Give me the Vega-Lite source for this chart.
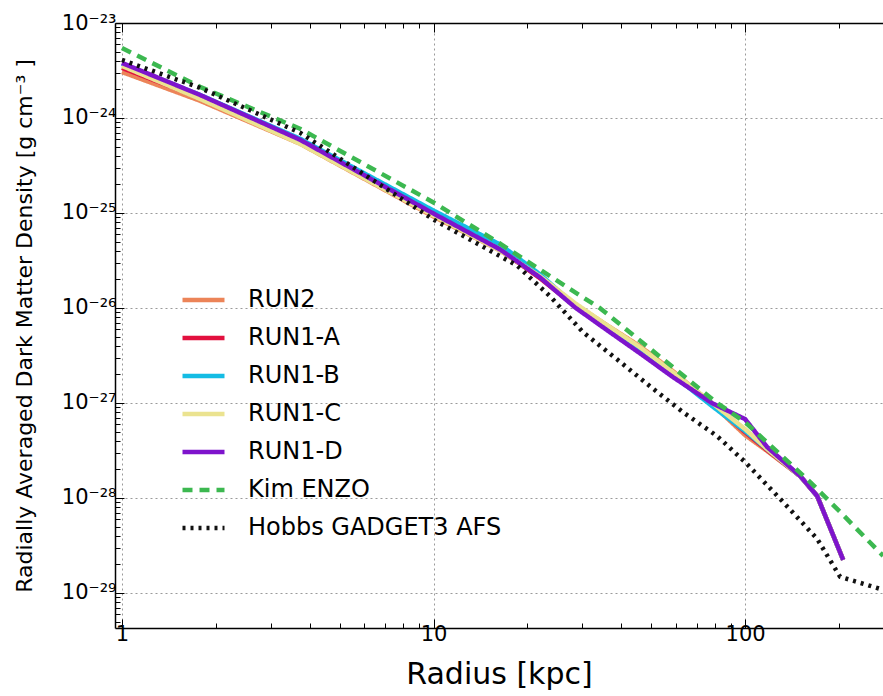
{
  "$schema": "https://vega.github.io/schema/vega-lite/v6.json",
  "autosize": "none",
  "width": 768,
  "height": 605,
  "padding": {"left": 115, "top": 23, "right": 0, "bottom": 68},
  "background": "white",
  "config": {
    "font": "DejaVu Sans",
    "view": {"stroke": null},
    "axis": {"domainColor": "black", "domainWidth": 1.5, "tickColor": "black", "tickWidth": 1, "gridColor": "#9a9a9a", "gridDash": [2, 3], "gridWidth": 1, "labelColor": "black", "titleColor": "black", "titleFontWeight": "normal"}
  },
  "data": {
    "values": [
      {"s": "RUN2", "r": 1.0, "rho": 3.05e-24},
      {"s": "RUN2", "r": 1.78, "rho": 1.52e-24},
      {"s": "RUN2", "r": 3.73, "rho": 5.36e-25},
      {"s": "RUN2", "r": 10.0, "rho": 9.16e-26},
      {"s": "RUN2", "r": 16.35, "rho": 4.03e-26},
      {"s": "RUN2", "r": 22.0, "rho": 2.09e-26},
      {"s": "RUN2", "r": 28.5, "rho": 1.09e-26},
      {"s": "RUN2", "r": 36.1, "rho": 6.56e-27},
      {"s": "RUN2", "r": 46.0, "rho": 3.95e-27},
      {"s": "RUN2", "r": 58.7, "rho": 2.16e-27},
      {"s": "RUN2", "r": 78.4, "rho": 9.7e-28},
      {"s": "RUN2", "r": 100, "rho": 4.59e-28},
      {"s": "RUN2", "r": 117.7, "rho": 3.12e-28},
      {"s": "RUN2", "r": 150.2, "rho": 1.7e-28},
      {"s": "RUN2", "r": 170.3, "rho": 1.05e-28},
      {"s": "RUN2", "r": 206.4, "rho": 2.23e-29},
      {"s": "RUN1-A", "r": 1.0, "rho": 3.37e-24},
      {"s": "RUN1-A", "r": 1.78, "rho": 1.63e-24},
      {"s": "RUN1-A", "r": 3.73, "rho": 5.62e-25},
      {"s": "RUN1-A", "r": 10.0, "rho": 9.6e-26},
      {"s": "RUN1-A", "r": 16.35, "rho": 4.13e-26},
      {"s": "RUN1-A", "r": 22.0, "rho": 2.05e-26},
      {"s": "RUN1-A", "r": 28.5, "rho": 1.04e-26},
      {"s": "RUN1-A", "r": 36.1, "rho": 6.1e-27},
      {"s": "RUN1-A", "r": 46.0, "rho": 3.59e-27},
      {"s": "RUN1-A", "r": 58.7, "rho": 2.01e-27},
      {"s": "RUN1-A", "r": 78.4, "rho": 9.7e-28},
      {"s": "RUN1-A", "r": 100, "rho": 4.93e-28},
      {"s": "RUN1-A", "r": 117.7, "rho": 3.19e-28},
      {"s": "RUN1-A", "r": 150.2, "rho": 1.7e-28},
      {"s": "RUN1-A", "r": 170.3, "rho": 1.05e-28},
      {"s": "RUN1-A", "r": 206.4, "rho": 2.23e-29},
      {"s": "RUN1-B", "r": 1.0, "rho": 3.71e-24},
      {"s": "RUN1-B", "r": 1.78, "rho": 1.75e-24},
      {"s": "RUN1-B", "r": 3.73, "rho": 6.05e-25},
      {"s": "RUN1-B", "r": 10.0, "rho": 1.06e-25},
      {"s": "RUN1-B", "r": 16.35, "rho": 4.66e-26},
      {"s": "RUN1-B", "r": 22.0, "rho": 2.25e-26},
      {"s": "RUN1-B", "r": 28.5, "rho": 1.06e-26},
      {"s": "RUN1-B", "r": 36.1, "rho": 5.96e-27},
      {"s": "RUN1-B", "r": 46.0, "rho": 3.5e-27},
      {"s": "RUN1-B", "r": 58.7, "rho": 1.96e-27},
      {"s": "RUN1-B", "r": 78.4, "rho": 9.25e-28},
      {"s": "RUN1-B", "r": 100, "rho": 5.06e-28},
      {"s": "RUN1-B", "r": 117.7, "rho": 3.27e-28},
      {"s": "RUN1-B", "r": 150.2, "rho": 1.7e-28},
      {"s": "RUN1-B", "r": 170.3, "rho": 1.05e-28},
      {"s": "RUN1-B", "r": 206.4, "rho": 2.23e-29},
      {"s": "RUN1-C", "r": 1.0, "rho": 3.53e-24},
      {"s": "RUN1-C", "r": 1.78, "rho": 1.59e-24},
      {"s": "RUN1-C", "r": 3.73, "rho": 5.36e-25},
      {"s": "RUN1-C", "r": 10.0, "rho": 9.39e-26},
      {"s": "RUN1-C", "r": 16.35, "rho": 4.03e-26},
      {"s": "RUN1-C", "r": 22.0, "rho": 2.15e-26},
      {"s": "RUN1-C", "r": 28.5, "rho": 1.12e-26},
      {"s": "RUN1-C", "r": 36.1, "rho": 6.56e-27},
      {"s": "RUN1-C", "r": 46.0, "rho": 3.86e-27},
      {"s": "RUN1-C", "r": 58.7, "rho": 2.11e-27},
      {"s": "RUN1-C", "r": 78.4, "rho": 1.0e-27},
      {"s": "RUN1-C", "r": 100, "rho": 5.31e-28},
      {"s": "RUN1-C", "r": 117.7, "rho": 3.27e-28},
      {"s": "RUN1-C", "r": 150.2, "rho": 1.7e-28},
      {"s": "RUN1-C", "r": 170.3, "rho": 1.05e-28},
      {"s": "RUN1-C", "r": 206.4, "rho": 2.23e-29},
      {"s": "RUN1-D", "r": 1.0, "rho": 3.8e-24},
      {"s": "RUN1-D", "r": 1.78, "rho": 1.75e-24},
      {"s": "RUN1-D", "r": 3.73, "rho": 5.9e-25},
      {"s": "RUN1-D", "r": 10.0, "rho": 9.86e-26},
      {"s": "RUN1-D", "r": 16.35, "rho": 4.13e-26},
      {"s": "RUN1-D", "r": 22.0, "rho": 2.09e-26},
      {"s": "RUN1-D", "r": 28.5, "rho": 1.01e-26},
      {"s": "RUN1-D", "r": 36.1, "rho": 5.82e-27},
      {"s": "RUN1-D", "r": 46.0, "rho": 3.33e-27},
      {"s": "RUN1-D", "r": 58.7, "rho": 1.87e-27},
      {"s": "RUN1-D", "r": 78.4, "rho": 9.95e-28},
      {"s": "RUN1-D", "r": 100, "rho": 6.76e-28},
      {"s": "RUN1-D", "r": 117.7, "rho": 3.44e-28},
      {"s": "RUN1-D", "r": 150.2, "rho": 1.7e-28},
      {"s": "RUN1-D", "r": 170.3, "rho": 1.05e-28},
      {"s": "RUN1-D", "r": 206.4, "rho": 2.23e-29},
      {"s": "Kim ENZO", "r": 1.0, "rho": 5.46e-24},
      {"s": "Kim ENZO", "r": 1.78, "rho": 2.13e-24},
      {"s": "Kim ENZO", "r": 3.73, "rho": 7.7e-25},
      {"s": "Kim ENZO", "r": 10.0, "rho": 1.29e-25},
      {"s": "Kim ENZO", "r": 16.35, "rho": 4.77e-26},
      {"s": "Kim ENZO", "r": 23.7, "rho": 2.15e-26},
      {"s": "Kim ENZO", "r": 34.3, "rho": 9.9e-27},
      {"s": "Kim ENZO", "r": 81.3, "rho": 1.0e-27},
      {"s": "Kim ENZO", "r": 100, "rho": 6.28e-28},
      {"s": "Kim ENZO", "r": 161.7, "rho": 1.47e-28},
      {"s": "Kim ENZO", "r": 201.8, "rho": 7.13e-29},
      {"s": "Kim ENZO", "r": 277.3, "rho": 2.46e-29},
      {"s": "Hobbs GADGET3 AFS", "r": 1.0, "rho": 4.08e-24},
      {"s": "Hobbs GADGET3 AFS", "r": 1.78, "rho": 2.08e-24},
      {"s": "Hobbs GADGET3 AFS", "r": 3.73, "rho": 7.0e-25},
      {"s": "Hobbs GADGET3 AFS", "r": 10.0, "rho": 8.53e-26},
      {"s": "Hobbs GADGET3 AFS", "r": 18.54, "rho": 2.8e-26},
      {"s": "Hobbs GADGET3 AFS", "r": 23.7, "rho": 1.32e-26},
      {"s": "Hobbs GADGET3 AFS", "r": 30.2, "rho": 5.55e-27},
      {"s": "Hobbs GADGET3 AFS", "r": 38.8, "rho": 2.88e-27},
      {"s": "Hobbs GADGET3 AFS", "r": 49.5, "rho": 1.5e-27},
      {"s": "Hobbs GADGET3 AFS", "r": 63.2, "rho": 8.0e-28},
      {"s": "Hobbs GADGET3 AFS", "r": 81.3, "rho": 4.48e-28},
      {"s": "Hobbs GADGET3 AFS", "r": 100, "rho": 2.39e-28},
      {"s": "Hobbs GADGET3 AFS", "r": 132.4, "rho": 9.08e-29},
      {"s": "Hobbs GADGET3 AFS", "r": 170.3, "rho": 3.71e-29},
      {"s": "Hobbs GADGET3 AFS", "r": 201.8, "rho": 1.48e-29},
      {"s": "Hobbs GADGET3 AFS", "r": 233.9, "rho": 1.28e-29},
      {"s": "Hobbs GADGET3 AFS", "r": 277.3, "rho": 1.08e-29}
    ]
  },
  "layer": [
    {
      "mark": {"type": "line", "clip": true, "strokeCap": "butt", "strokeJoin": "round"},
      "encoding": {
        "x": {
          "field": "r", "type": "quantitative",
          "scale": {"type": "log", "domain": [0.95, 277], "nice": false},
          "axis": {
            "orient": "bottom",
            "title": "Radius [kpc]", "titleFontSize": 30, "titlePadding": 11,
            "values": [1,2,3,4,5,6,7,8,9,10,20,30,40,50,60,70,80,90,100,200],
            "labelExpr": "abs(log(datum.value)/LN10 - round(log(datum.value)/LN10)) < 0.001 ? format(datum.value, 'd') : ''",
            "labelFontSize": 21, "labelPadding": 4, "labelFlush": false, "labelOverlap": false,
            "tickSize": {"condition": {"test": "abs(log(datum.value)/LN10 - round(log(datum.value)/LN10)) < 0.001", "value": -9}, "value": -5},
            "gridOpacity": {"condition": {"test": "abs(log(datum.value)/LN10 - round(log(datum.value)/LN10)) < 0.001", "value": 1}, "value": 0}
          }
        },
        "y": {
          "field": "rho", "type": "quantitative",
          "scale": {"type": "log", "domain": [4.28e-30, 1e-23], "nice": false},
          "axis": {
            "title": "Radially Averaged Dark Matter Density [g cm⁻³ ]", "titleFontSize": 22, "titlePadding": 25,
            "values": [5e-30,6e-30,7e-30,8e-30,9e-30,1e-29,2e-29,3e-29,4e-29,5e-29,6e-29,7e-29,8e-29,9e-29,1e-28,2e-28,3e-28,4e-28,5e-28,6e-28,7e-28,8e-28,9e-28,1e-27,2e-27,3e-27,4e-27,5e-27,6e-27,7e-27,8e-27,9e-27,1e-26,2e-26,3e-26,4e-26,5e-26,6e-26,7e-26,8e-26,9e-26,1e-25,2e-25,3e-25,4e-25,5e-25,6e-25,7e-25,8e-25,9e-25,1e-24,2e-24,3e-24,4e-24,5e-24,6e-24,7e-24,8e-24,9e-24,1e-23],
            "labelExpr": "abs(log(datum.value)/LN10 - round(log(datum.value)/LN10)) > 0.001 ? '' : round(log(datum.value)/LN10) == -23 ? '10⁻²³' : round(log(datum.value)/LN10) == -24 ? '10⁻²⁴' : round(log(datum.value)/LN10) == -25 ? '10⁻²⁵' : round(log(datum.value)/LN10) == -26 ? '10⁻²⁶' : round(log(datum.value)/LN10) == -27 ? '10⁻²⁷' : round(log(datum.value)/LN10) == -28 ? '10⁻²⁸' : '10⁻²⁹'",
            "labelFontSize": 21, "labelPadding": 8, "labelFlush": false, "labelOverlap": false,
            "tickSize": {"condition": {"test": "abs(log(datum.value)/LN10 - round(log(datum.value)/LN10)) < 0.001", "value": -9}, "value": -5},
            "gridOpacity": {"condition": {"test": "abs(log(datum.value)/LN10 - round(log(datum.value)/LN10)) < 0.001", "value": 1}, "value": 0}
          }
        },
        "color": {
          "field": "s", "type": "nominal",
          "scale": {"domain": ["RUN2","RUN1-A","RUN1-B","RUN1-C","RUN1-D","Kim ENZO","Hobbs GADGET3 AFS"], "range": ["#ec8458","#e2103e","#14bce4","#ebe390","#7e14cc","#3cb850","#111111"]},
          "legend": {"title": null, "orient": "none", "legendX": 65, "legendY": 258, "labelFontSize": 24, "labelLimit": 500, "labelColor": "black", "symbolType": "stroke", "symbolSize": 1764, "symbolStrokeWidth": 5, "clipHeight": 38, "rowPadding": 0, "labelOffset": 21, "padding": 0}
        },
        "strokeDash": {
          "field": "s", "type": "nominal",
          "scale": {"domain": ["RUN2","RUN1-A","RUN1-B","RUN1-C","RUN1-D","Kim ENZO","Hobbs GADGET3 AFS"], "range": [[1,0],[1,0],[1,0],[1,0],[1,0],[10,7],[3,5]]},
          "legend": {"title": null, "orient": "none", "legendX": 65, "legendY": 258, "labelFontSize": 24, "labelLimit": 500, "labelColor": "black", "symbolType": "stroke", "symbolSize": 1764, "symbolStrokeWidth": 5, "clipHeight": 38, "rowPadding": 0, "labelOffset": 21, "padding": 0}
        },
        "strokeWidth": {
          "field": "s", "type": "nominal",
          "scale": {"domain": ["RUN2","RUN1-A","RUN1-B","RUN1-C","RUN1-D","Kim ENZO","Hobbs GADGET3 AFS"], "range": [4.5,4.5,4.5,4.5,6,3.5,3]},
          "legend": null
        }
      }
    },
    {
      "mark": {"type": "line", "opacity": 0},
      "encoding": {
        "x": {
          "field": "r", "type": "quantitative",
          "scale": {"type": "log", "domain": [0.95, 277], "nice": false},
          "axis": {
            "orient": "top", "title": null, "labels": false, "grid": false,
            "values": [1,2,3,4,5,6,7,8,9,10,20,30,40,50,60,70,80,90,100,200],
            "tickSize": {"condition": {"test": "abs(log(datum.value)/LN10 - round(log(datum.value)/LN10)) < 0.001", "value": -9}, "value": -5}
          }
        },
        "y": {"field": "rho", "type": "quantitative"},
        "detail": {"field": "s"}
      }
    }
  ],
  "resolve": {"scale": {"x": "independent"}, "axis": {"x": "independent"}}
}
